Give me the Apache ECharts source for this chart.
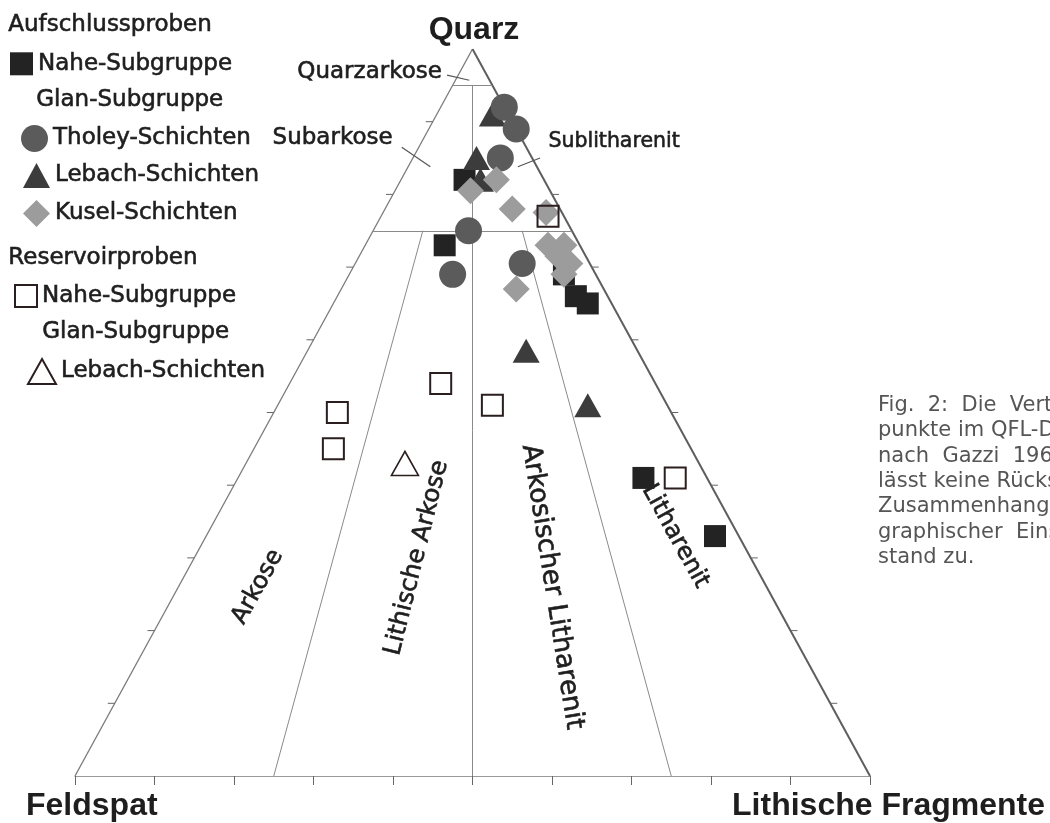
<!DOCTYPE html>
<html>
<head>
<meta charset="utf-8">
<script src="https://cdn.jsdelivr.net/npm/echarts@6/dist/echarts.min.js"></script>
<style>
  html, body { margin: 0; padding: 0; background: #fff; }
  #chart { width: 1050px; height: 823px; }
</style>
</head>
<body>
<div id="chart"></div>
<script>
// Samples as [Q, F, L] in percent
const aufNahe = [[73, 17, 10], [82, 10, 8], [69, 4, 27], [66, 4, 30], [65, 3, 32], [41, 8, 51], [33, 3, 64]]
const aufTholey = [[92, 0, 8], [89, 0, 11], [85, 4, 11], [75, 13, 12], [69, 18, 13], [70.5, 8.5, 21]]
const aufLebach = [[91, 2, 7], [85, 7, 8], [82, 8, 10], [58.5, 14, 27.5], [51, 10, 39]]
const aufKusel = [[82, 6, 12], [80.5, 10, 9.5], [78, 6, 16], [77.5, 2, 20.5], [73, 4, 23], [73, 2, 25],
  [71.5, 3.5, 25], [70.5, 2.5, 27], [69, 4, 27], [67, 11, 22]]
const resNahe = [[77, 2, 21], [54, 27, 19], [51, 22, 27], [50, 42, 8], [45, 45, 10], [41, 4, 55]]
const resLebach = [[43, 37, 20]]

// Gazzi (1966) field boundaries, [Q, F, L] end points
const edges = [
  [[100, 0, 0], [0, 100, 0]],
  [[100, 0, 0], [0, 0, 100]]
]
const fieldLines = [
  [[95, 5, 0], [95, 0, 5]],
  [[75, 25, 0], [75, 0, 25]],
  [[75, 18.75, 6.25], [0, 75, 25]],
  [[95, 2.5, 2.5], [0, 50, 50]],
  [[75, 6.25, 18.75], [0, 25, 75]]
]
const edgeTickQ = [10, 20, 30, 40, 50, 60, 70, 80, 90]

const fieldNames = [
  { name: 'Arkose', at: [26, 64, 10], rotate: 61, size: 24 },
  { name: 'Lithische Arkose', at: [30, 42, 28], rotate: 76, size: 24.5 },
  { name: 'Arkosischer Litharenit', at: [26, 27, 47], rotate: -81, size: 26.5 },
  { name: 'Litharenit', at: [33, 8, 59], rotate: -61, size: 24 }
]
// callouts outside the small fields: text anchor and leader line, in plot coords [x, y]
const callouts = [
  { name: 'Quarzarkose', at: [46.4, 96.8], pos: 'left', size: 23, leader: [[46.8, 96.4], [49.6, 95.7]] },
  { name: 'Subarkose', at: [40.2, 87.8], pos: 'left', size: 23, leader: [[41.1, 86.5], [44.7, 83.8]] },
  { name: 'Sublitharenit', at: [59.3, 87.3], pos: 'right', size: 20.5, leader: [[58.5, 85.0], [55.7, 83.8]] }
]

const captionLines = [
  'Fig.  2:  Die  Verteilung  der',
  'punkte im QFL-Diagramm',
  'nach  Gazzi  1966',
  'lässt keine Rückschlüsse auf',
  'Zusammenhang mit der',
  'graphischer  Einstufung',
  'stand zu.'
]

const toXY = ([q, f, l]) => [l + q / 2, q]

const legendNames = {
  aufNahe: 'Nahe-Subgruppe',
  aufTholey: 'Tholey-Schichten',
  aufLebach: 'Lebach-Schichten',
  aufKusel: 'Kusel-Schichten',
  resNahe: 'Nahe-Subgruppe',
  resLebach: 'Lebach-Schichten'
}

const textFont = 'DejaVu Sans'
const ink = '#1e1e1e'
// a hairline outline gives the scanned, slightly heavier letter weight
const heavy = { textBorderColor: ink, textBorderWidth: 0.6 }

const chart = echarts.init(document.getElementById('chart'))

const legendStyle = {
  orient: 'horizontal',
  padding: 0,
  selectedMode: false,
  formatter: name => legendNames[name],
  textStyle: { fontFamily: textFont, fontSize: 23, color: ink, ...heavy }
}

const headingStyle = { font: `23px "${textFont}"`, fill: ink, stroke: ink, lineWidth: 0.6 }

const option = {
  animation: false,
  backgroundColor: '#fff',
  grid: { left: 75, top: 49, width: 795, height: 727 },
  xAxis: {
    type: 'value', min: 0, max: 100, interval: 10,
    axisLine: { show: true, lineStyle: { color: '#9a9a9a', width: 1.2 } },
    axisTick: { show: true, length: 9, lineStyle: { color: '#666', width: 1 } },
    axisLabel: { show: false },
    splitLine: { show: false }
  },
  yAxis: {
    type: 'value', min: 0, max: 100, show: false
  },
  legend: [
    { ...legendStyle, left: 10, top: 52, itemWidth: 23, itemHeight: 23, data: [{ name: 'aufNahe', icon: 'rect' }] },
    { ...legendStyle, left: 21, top: 125, itemWidth: 27, itemHeight: 27, data: [{ name: 'aufTholey', icon: 'circle' }] },
    { ...legendStyle, left: 23, top: 163, itemWidth: 27, itemHeight: 25, data: [{ name: 'aufLebach', icon: 'triangle' }] },
    { ...legendStyle, left: 23, top: 200, itemWidth: 27, itemHeight: 27, data: [{ name: 'aufKusel', icon: 'diamond' }] },
    { ...legendStyle, left: 14, top: 284, itemWidth: 22, itemHeight: 22, data: [{ name: 'resNahe', icon: 'rect' }] },
    { ...legendStyle, left: 27, top: 358, itemWidth: 28, itemHeight: 25, data: [{ name: 'resLebach', icon: 'triangle' }] }
  ],
  graphic: [
    { type: 'text', left: 8, top: 13, style: { text: 'Aufschlussproben', ...headingStyle } },
    { type: 'text', left: 36, top: 88, style: { text: 'Glan-Subgruppe', ...headingStyle } },
    { type: 'text', left: 8, top: 246, style: { text: 'Reservoirproben', ...headingStyle } },
    { type: 'text', left: 42, top: 320, style: { text: 'Glan-Subgruppe', ...headingStyle } },
    { type: 'text', x: 474, y: 30, style: { text: 'Quarz', font: 'bold 32px "Liberation Sans"', fill: ink, align: 'center', verticalAlign: 'middle' } },
    { type: 'text', x: 26, y: 806, style: { text: 'Feldspat', font: 'bold 32px "Liberation Sans"', fill: ink, align: 'left', verticalAlign: 'middle' } },
    { type: 'text', x: 1045, y: 806, style: { text: 'Lithische Fragmente', font: 'bold 32px "Liberation Sans"', fill: ink, align: 'right', verticalAlign: 'middle' } },
    { type: 'text', x: 878, y: 393, style: { text: captionLines.join('\n'), font: `21px "${textFont}"`, lineHeight: 25.3, fill: '#555', align: 'left', verticalAlign: 'top' } }
  ],
  series: [
    {
      type: 'lines', coordinateSystem: 'cartesian2d', silent: true, z: 1,
      data: [
        { coords: edges[0].map(toXY), lineStyle: { color: '#7a7a7a', width: 1.3 } },
        { coords: edges[1].map(toXY), lineStyle: { color: '#5e5e5e', width: 2 } },
        ...fieldLines.map(seg => ({ coords: seg.map(toXY) })),
        ...callouts.map(c => ({ coords: c.leader, lineStyle: { color: '#555', width: 1.2 } }))
      ],
      lineStyle: { color: '#8a8a8a', width: 1, opacity: 1 }
    },
    {
      type: 'custom', silent: true, z: 1,
      data: edgeTickQ.flatMap(q => [[0, q], [1, q]]),
      renderItem: (params, api) => {
        const right = api.value(0) === 1
        const q = api.value(1)
        const p = api.coord(toXY(right ? [q, 0, 100 - q] : [q, 100 - q, 0]))
        const d = right ? 7 : -7
        return {
          type: 'line',
          shape: { x1: p[0], y1: p[1], x2: p[0] + d, y2: p[1] },
          style: { stroke: '#666', lineWidth: 1 }
        }
      }
    },
    {
      type: 'scatter', silent: true, z: 2, symbolSize: 0,
      data: fieldNames.map(f => ({
        name: f.name, value: toXY(f.at), label: { rotate: f.rotate, fontSize: f.size }
      })),
      label: {
        show: true, position: 'inside', formatter: '{b}',
        fontFamily: textFont, fontStyle: 'normal', fontWeight: 'normal', color: ink, opacity: 1, ...heavy
      }
    },
    {
      type: 'scatter', silent: true, z: 2, symbolSize: 0,
      data: callouts.map(c => ({ name: c.name, value: c.at, label: { position: c.pos, fontSize: c.size } })),
      label: {
        show: true, distance: 2, formatter: '{b}',
        fontFamily: textFont, fontStyle: 'normal', color: ink, opacity: 1, ...heavy
      }
    },
    {
      name: 'aufNahe', type: 'scatter', symbol: 'rect', symbolSize: 22, z: 3,
      itemStyle: { color: '#232323', opacity: 1 },
      data: aufNahe.map(toXY)
    },
    {
      name: 'aufLebach', type: 'scatter', symbol: 'triangle', symbolSize: [27, 24], z: 3,
      itemStyle: { color: '#3c3c3c', opacity: 1 },
      data: aufLebach.map(toXY)
    },
    {
      name: 'aufTholey', type: 'scatter', symbol: 'circle', symbolSize: 27, z: 3,
      itemStyle: { color: '#5b5b5b', opacity: 1 },
      data: aufTholey.map(toXY)
    },
    {
      name: 'aufKusel', type: 'scatter', symbol: 'diamond', symbolSize: 27, z: 3,
      itemStyle: { color: '#9c9c9c', opacity: 1 },
      data: aufKusel.map(toXY)
    },
    {
      name: 'resNahe', type: 'scatter', symbol: 'rect', symbolSize: 21, z: 4,
      itemStyle: { color: 'rgba(255,255,255,0)', borderColor: '#2b1e1e', borderWidth: 2, opacity: 1 },
      data: resNahe.map(toXY)
    },
    {
      name: 'resLebach', type: 'scatter', symbol: 'triangle', symbolSize: [27, 24], z: 4,
      itemStyle: { color: 'rgba(255,255,255,0)', borderColor: '#2b1e1e', borderWidth: 1.6, opacity: 1 },
      data: resLebach.map(toXY)
    }
  ]
}

chart.setOption(option)
window.addEventListener('resize', () => chart.resize())
</script>
</body>
</html>
